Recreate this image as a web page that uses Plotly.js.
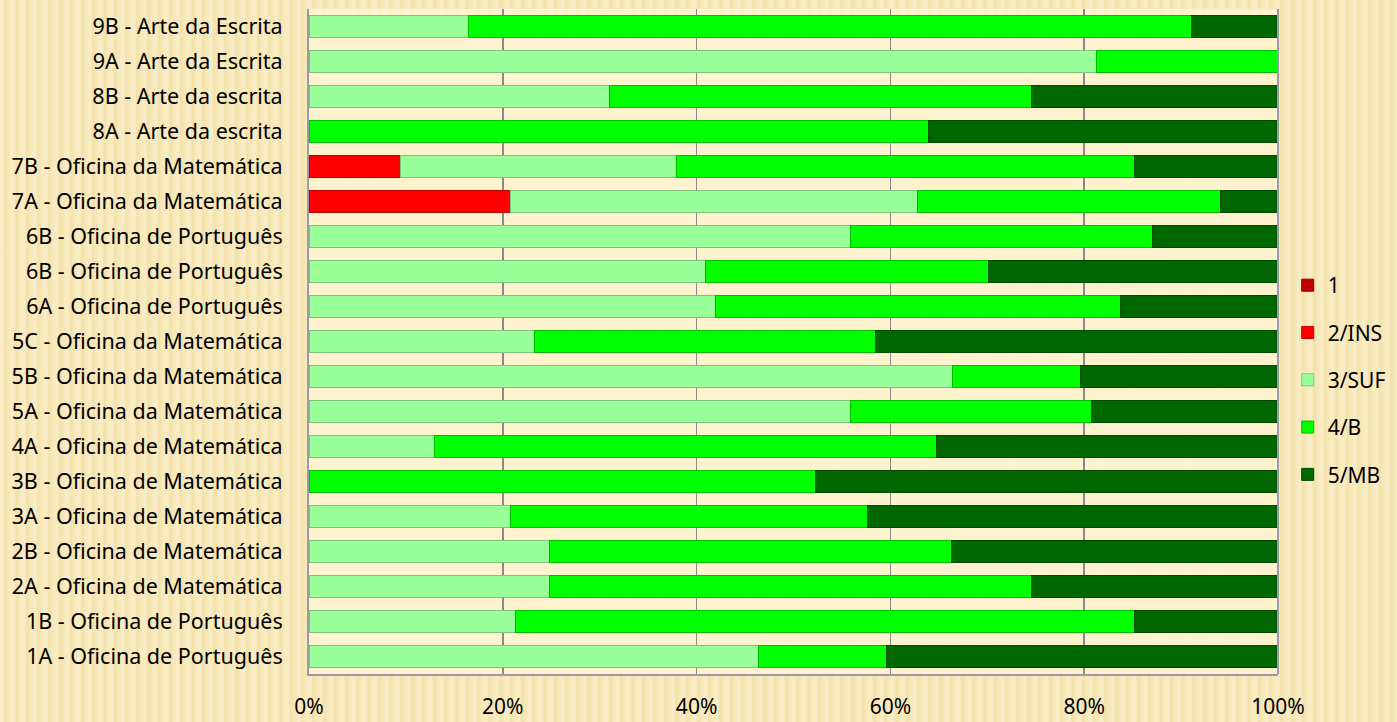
<!DOCTYPE html>
<html>
<head>
<meta charset="utf-8">
<script src="https://cdn.plot.ly/plotly-3.0.1.min.js"></script>
<style>
  html, body { margin: 0; padding: 0; }
  body {
    width: 1397px; height: 722px; overflow: hidden;
    background-color: #F7E6B2;
    background-image:
      repeating-linear-gradient(90deg, rgba(255,255,255,0.22) 0px, rgba(255,255,255,0.22) 3px, rgba(210,180,110,0.10) 5px, rgba(255,255,255,0.05) 8px, rgba(255,255,255,0.22) 11px);
  }
  #chart { width: 1397px; height: 722px; }
</style>
</head>
<body>
<div id="chart"></div>
<script>
// Categories listed bottom to top
const categories = [
  "1A - Oficina de Português",
  "1B - Oficina de Português",
  "2A - Oficina de Matemática",
  "2B - Oficina de Matemática",
  "3A - Oficina de Matemática",
  "3B - Oficina de Matemática",
  "4A - Oficina de Matemática",
  "5A - Oficina da Matemática",
  "5B - Oficina da Matemática",
  "5C - Oficina da Matemática",
  "6A - Oficina de Português",
  "6B - Oficina de Português",
  "6B - Oficina de Português",
  "7A - Oficina da Matemática",
  "7B - Oficina da Matemática",
  "8A - Arte da escrita",
  "8B - Arte da escrita",
  "9A - Arte da Escrita",
  "9B - Arte da Escrita"
];

const seriesNames = ["1", "2/INS", "3/SUF", "4/B", "5/MB"];

// Percentages (bottom to top, same order as categories)
const nivel1 = [0,0,0,0,0,0,0,0,0,0,0,0,0,0,0,0,0,0,0];
const nivel2 = [0,0,0,0,0,0,0,0,0,0,0,0,0,20.8,9.4,0,0,0,0];
const nivel3 = [46.4,21.3,24.8,24.8,20.8,0,12.9,55.9,66.4,23.3,41.9,40.9,55.9,42.0,28.5,0,31.0,81.3,16.5];
const nivel4 = [13.2,63.9,49.8,41.5,36.8,52.3,51.9,24.9,13.2,35.2,41.8,29.2,31.1,31.3,47.3,63.9,43.6,18.7,74.6];
const nivel5 = [40.4,14.8,25.4,33.7,42.4,47.7,35.2,19.2,20.4,41.5,16.3,29.9,13.0,5.9,14.8,36.1,25.4,0,8.9];

const xTickVals = [0, 20, 40, 60, 80, 100];
const xTickText = ["0%", "20%", "40%", "60%", "80%", "100%"];

const colors = ["#C00000", "#FF0000", "#99FF99", "#00FF00", "#006600"];
const edgeColors = ["#900000", "#C00000", "#7FC27F", "#00C000", "#004D00"];

const series = [nivel1, nivel2, nivel3, nivel4, nivel5];
const yPos = categories.map((c, i) => i);

const traces = series.map((vals, k) => ({
  type: "bar",
  orientation: "h",
  name: seriesNames[k],
  x: vals,
  y: yPos,
  marker: { color: colors[k], line: { color: edgeColors[k], width: 1 } },
  legendgroup: "g" + k,
  hoverinfo: "skip"
}));

const FONT = "Noto Sans, DejaVu Sans, sans-serif";

const layout = {
  width: 1397,
  height: 722,
  barmode: "stack",
  bargap: 0.36,
  paper_bgcolor: "rgba(0,0,0,0)",
  plot_bgcolor: "rgba(255,243,208,0.9)",
  margin: { l: 309, r: 119, t: 9, b: 48, pad: 0, autoexpand: false },
  font: { family: FONT, size: 20, color: "#000000" },
  xaxis: {
    range: [0, 100],
    tickvals: xTickVals,
    ticktext: xTickText,
    showgrid: true,
    gridcolor: "#8A8A8A",
    gridwidth: 1.5,
    zeroline: false,
    showline: true,
    linecolor: "#9A9AA8",
    linewidth: 2,
    ticks: "",
    ticklabelstandoff: 13,
    tickfont: { family: FONT, size: 21, color: "#000" },
    fixedrange: true
  },
  yaxis: {
    range: [-0.5, 18.5],
    tickvals: yPos,
    ticktext: categories,
    showgrid: false,
    zeroline: false,
    showline: true,
    linecolor: "#9A9AA8",
    linewidth: 2,
    mirror: false,
    ticks: "",
    ticklabelstandoff: 20,
    tickfont: { family: FONT, size: 21.5, color: "#000" },
    fixedrange: true
  },
  showlegend: true,
  legend: {
    x: 1.01,
    xanchor: "left",
    y: 0.615,
    yanchor: "top",
    bgcolor: "rgba(0,0,0,0)",
    traceorder: "grouped",
    tracegroupgap: 17,
    itemwidth: 30,
    font: { family: FONT, size: 21, color: "#000" }
  },
  shapes: [
    { type: "line", xref: "paper", yref: "paper", x0: 1, x1: 1, y0: 0, y1: 1,
      line: { color: "#9A9AA8", width: 2 } }
  ]
};

Plotly.newPlot("chart", traces, layout, { displayModeBar: false, staticPlot: true });
</script>
</body>
</html>
